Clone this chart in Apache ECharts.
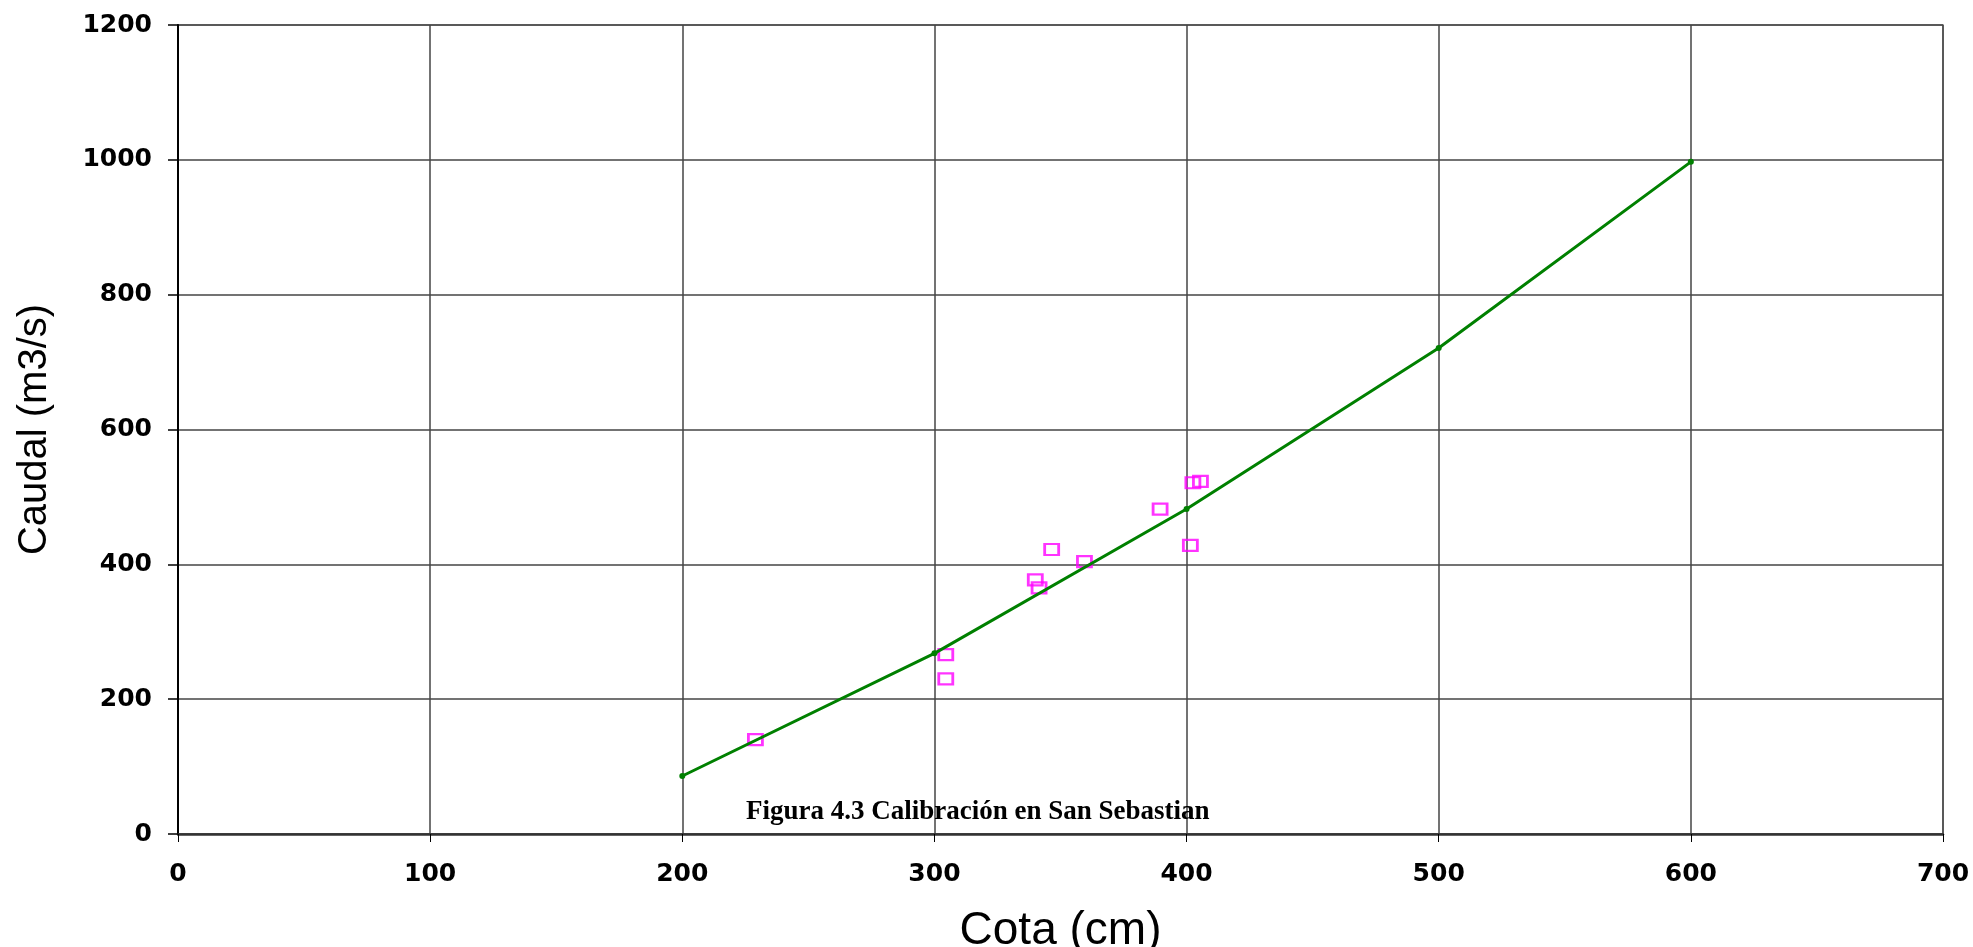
<!DOCTYPE html>
<html>
<head>
<meta charset="utf-8">
<script src="https://cdn.jsdelivr.net/npm/echarts@6/dist/echarts.min.js"></script>
<style>
html, body { margin: 0; padding: 0; background: #fff; }
#main { width: 1973px; height: 947px; }
</style>
</head>
<body>
<div id="main"></div>
<script>
// curva de calibración (cota cm, caudal m3/s)
var curvaCota = [200, 300, 400, 500, 600];
var curvaCaudal = [86, 268, 482, 721, 997];
// aforos medidos
var aforoCota = [229, 304.5, 304.5, 340, 341.5, 346.5, 359.5, 389.5, 401.5, 402.5, 405.5];
var aforoCaudal = [140, 266, 230, 377, 365, 422, 404, 482, 428, 521, 523];

var myChart = echarts.init(document.getElementById('main'));

var curva = curvaCota.map(function (c, i) { return [c, curvaCaudal[i]]; });
var aforos = aforoCota.map(function (c, i) { return [c, aforoCaudal[i]]; });

var labelFont = {
    color: '#000',
    fontFamily: 'DejaVu Sans',
    fontWeight: 'bold',
    fontSize: 25,
    formatter: function (v) { return String(v); }
};

option = {
    backgroundColor: '#fff',
    animation: false,
    title: {
        text: 'Figura 4.3 Calibración en San Sebastian',
        left: 746,
        top: 799,
        padding: 0,
        textStyle: {
            fontFamily: 'Liberation Serif',
            fontWeight: 'bold',
            fontSize: 27,
            color: '#000'
        }
    },
    grid: {
        left: 178,
        right: 30,
        top: 25,
        bottom: 113,
        containLabel: false,
        outerBoundsMode: 'none',
        show: true,
        borderColor: '#777',
        borderWidth: 1.5
    },
    xAxis: {
        type: 'value',
        min: 0,
        max: 700,
        interval: 100,
        name: 'Cota (cm)',
        nameLocation: 'middle',
        nameGap: 74,
        nameTextStyle: { fontFamily: 'Liberation Sans', fontSize: 46, color: '#000' },
        axisLine: { onZero: false, lineStyle: { color: '#333', width: 2.5 } },
        axisTick: { show: true, length: 8, lineStyle: { color: '#000', width: 1 } },
        axisLabel: Object.assign({ margin: 28 }, labelFont),
        splitLine: { show: true, lineStyle: { color: '#444', width: 1.5 } }
    },
    yAxis: {
        type: 'value',
        min: 0,
        max: 1200,
        interval: 200,
        name: 'Caudal (m3/s)',
        nameLocation: 'middle',
        nameGap: 123,
        nameTextStyle: { fontFamily: 'Liberation Sans', fontSize: 40, color: '#000' },
        axisLine: { show: true, onZero: false, lineStyle: { color: '#000', width: 2 } },
        axisTick: { show: true, length: 10, lineStyle: { color: '#000', width: 1.5 } },
        axisLabel: Object.assign({ margin: 26 }, labelFont),
        splitLine: { show: true, lineStyle: { color: '#444', width: 1.5 } }
    },
    series: [
        {
            type: 'line',
            data: curva,
            symbol: 'circle',
            symbolSize: 6,
            showSymbol: true,
            lineStyle: { color: '#008000', width: 3 },
            itemStyle: { color: '#008000' }
        },
        {
            type: 'scatter',
            data: aforos,
            symbol: 'rect',
            symbolSize: [14, 11],
            itemStyle: {
                color: 'rgba(0,0,0,0)',
                borderColor: '#FF00FF',
                borderWidth: 2.5
            }
        }
    ]
};

myChart.setOption(option);
</script>
</body>
</html>
